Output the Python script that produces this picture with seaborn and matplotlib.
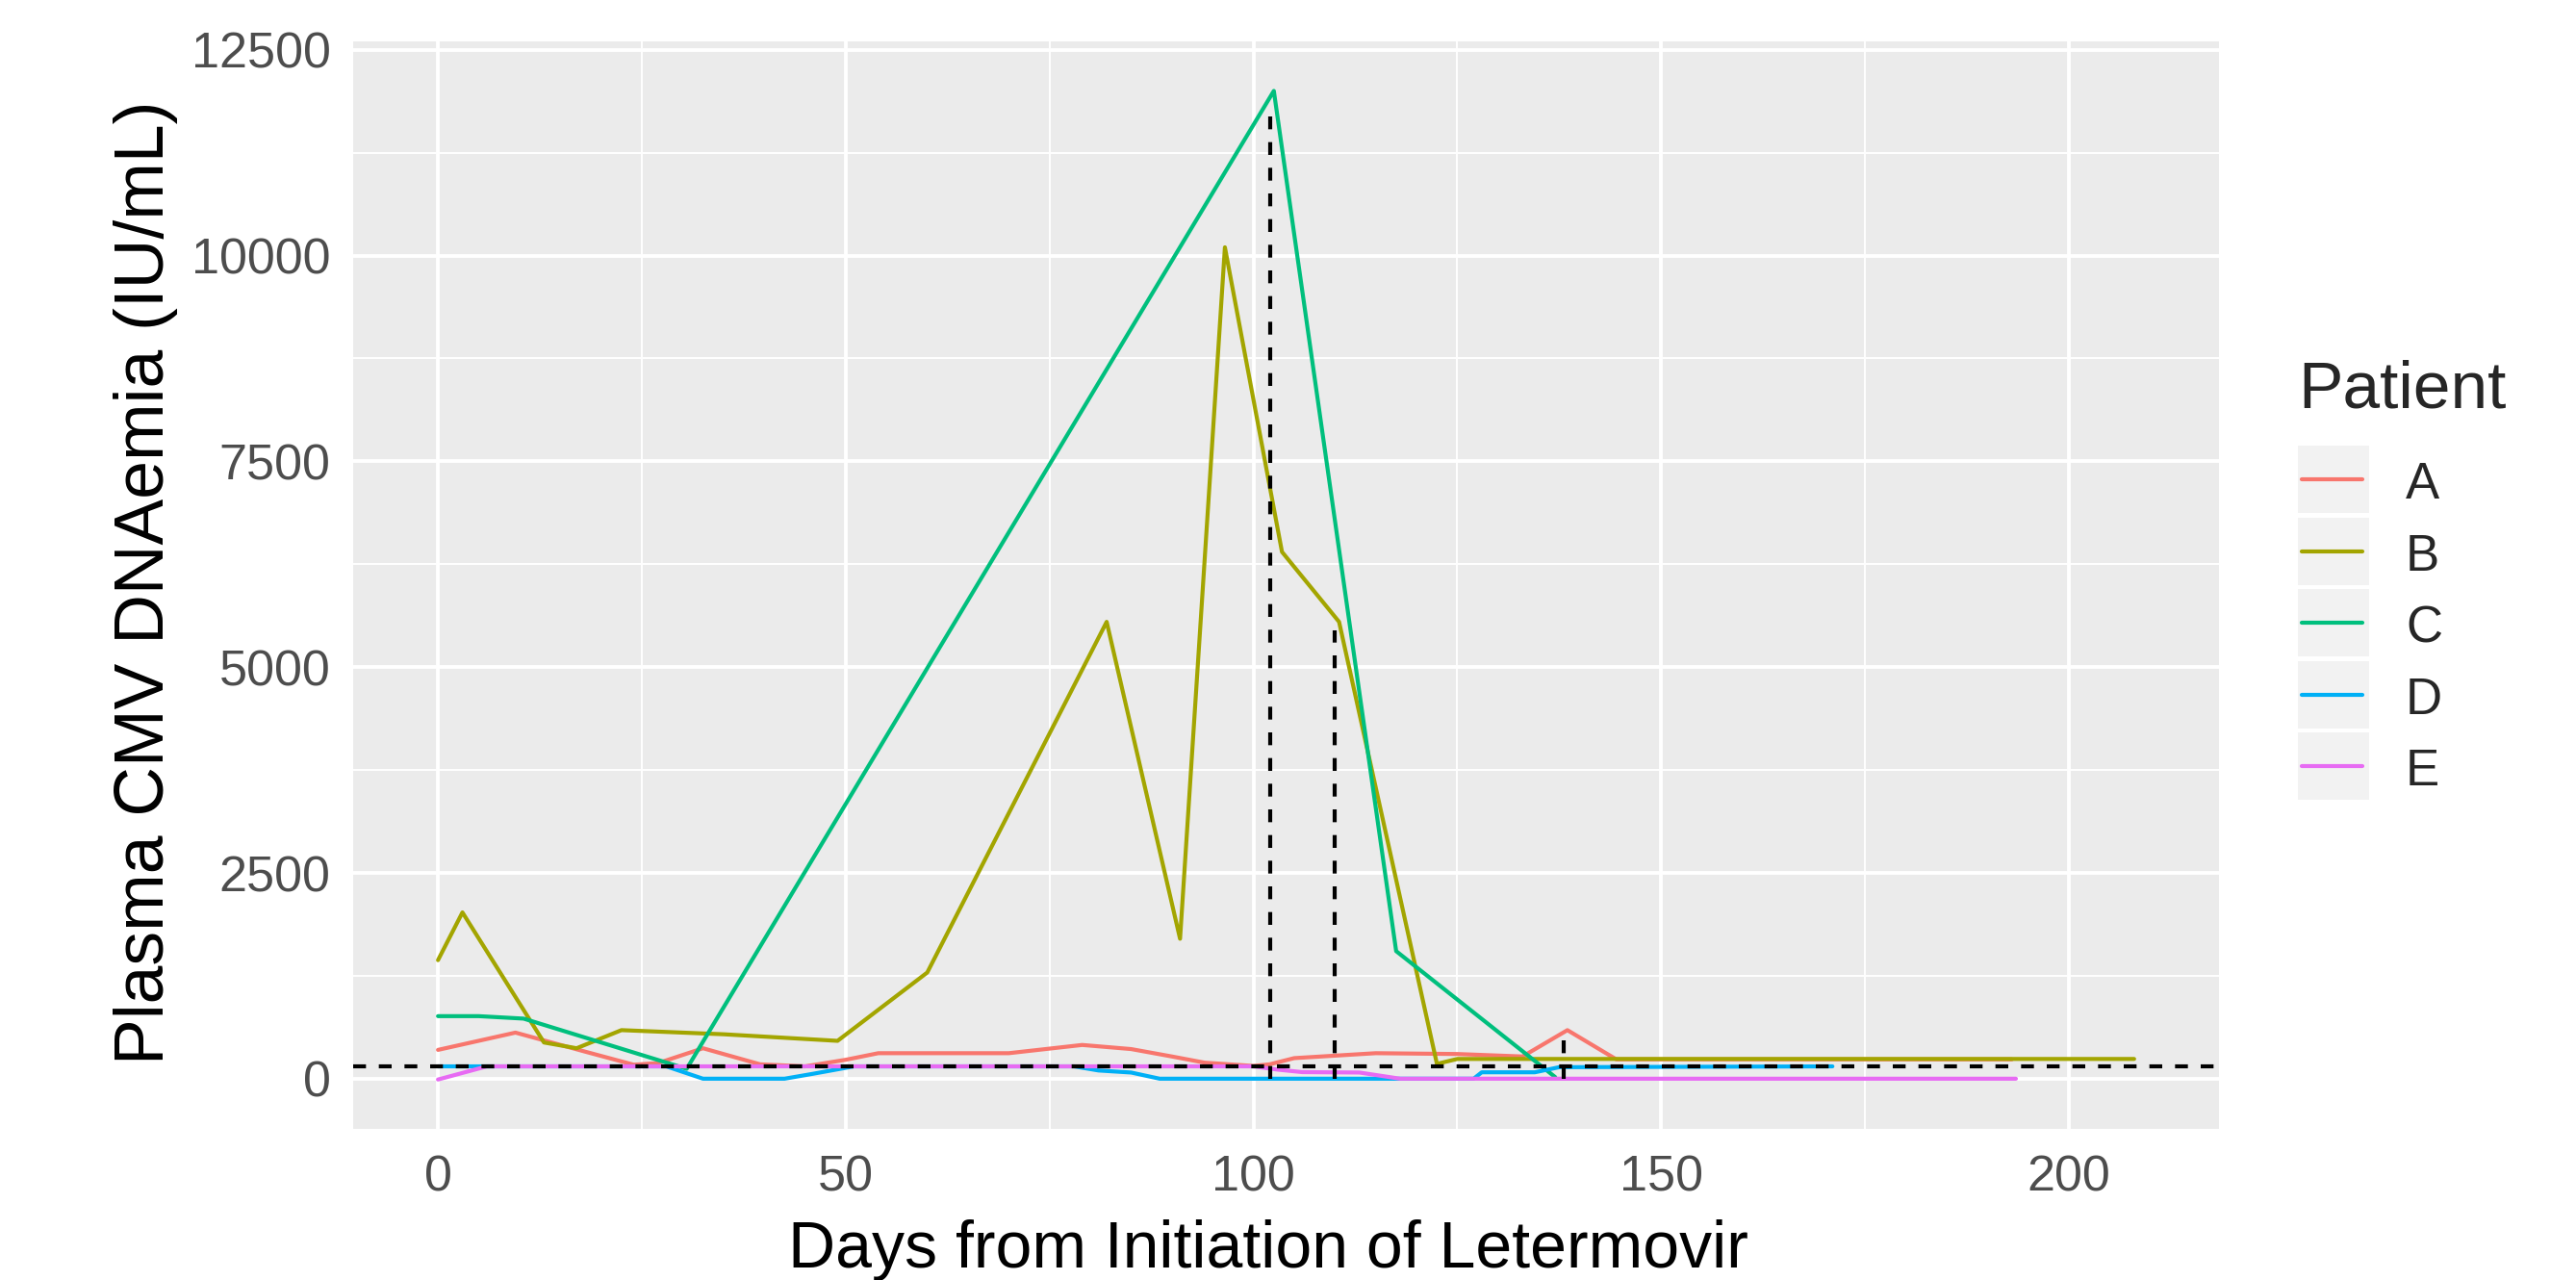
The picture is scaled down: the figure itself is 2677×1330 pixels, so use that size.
import numpy as np
import pandas as pd
import matplotlib
matplotlib.use('Agg')
import matplotlib.pyplot as plt
import seaborn as sns
from matplotlib.lines import Line2D
from matplotlib.patches import Rectangle

# patients and their ggplot-like hue colours
patients = ['A', 'B', 'C', 'D', 'E']
colors = ['#F8766D', '#A3A500', '#00BF7D', '#00B0F6', '#E76BF3']

# values (days, IU/mL)
a_days = [0, 9.5, 18, 24, 27, 32.5, 39.5, 45, 50, 54, 70, 79, 85, 90, 94, 100, 102, 105, 115, 125, 133, 138.5, 144.5, 193]
a_vals = [350, 560, 330, 170, 190, 370, 175, 150, 230, 310, 310, 410, 360, 270, 195, 155, 175, 250, 310, 300, 270, 590, 235, 235]

b_days = [0, 3, 13, 17, 22.5, 35, 49, 60, 82, 91, 96.5, 103.5, 110.5, 122.5, 125, 208]
b_vals = [1440, 2020, 440, 370, 590, 540, 460, 1290, 5550, 1700, 10100, 6400, 5550, 180, 240, 240]

c_days = [0, 5, 10.5, 30.5, 102.5, 117.5, 137]
c_vals = [760, 760, 730, 120, 12000, 1550, 20]

d_days = [0, 28, 32.5, 42.5, 46, 51, 78, 81, 85, 88.5, 127, 128, 134.5, 137.5, 171]
d_vals = [150, 150, 0, 0, 60, 150, 150, 100, 75, 0, 0, 78, 78, 140, 150]

e_days = [0, 6, 100, 103, 106, 113, 118, 193.5]
e_vals = [-10, 150, 150, 110, 80, 75, 0, 0]

# threshold line and the vertical markers
threshold = 150
marker_days = [102, 110, 138]
marker_tops = [11700, 5450, 560]

x_ticks = [0, 50, 100, 150, 200]
y_ticks = [0, 2500, 5000, 7500, 10000, 12500]

all_days = [a_days, b_days, c_days, d_days, e_days]
all_vals = [a_vals, b_vals, c_vals, d_vals, e_vals]

frames = []
for p, d, v in zip(patients, all_days, all_vals):
    frames.append(pd.DataFrame({'day': d, 'value': v, 'patient': p}))
df = pd.concat(frames, ignore_index=True)

sns.set_style('darkgrid', {'axes.facecolor': '#EBEBEB', 'grid.color': 'white'})
plt.rcParams['font.family'] = ['Liberation Sans', 'DejaVu Sans']

fig = plt.figure(figsize=(26.77, 13.30), dpi=100)
ax = fig.add_axes([0.1371, 0.1180, 0.7243, 0.8496])

sns.lineplot(data=df, x='day', y='value', hue='patient', hue_order=patients,
             palette=dict(zip(patients, colors)), estimator=None, sort=False,
             legend=False, linewidth=3, ax=ax)

# dashed reference lines
dash = (0, (3.2, 3.2))
ax.axhline(threshold, color='black', linewidth=3, linestyle=dash, zorder=5)
ax.vlines(marker_days, 0, marker_tops, colors='black', linewidth=3,
          linestyles=dash, zorder=5)

# ggplot style 5% expansion
xmin, xmax = df['day'].min(), df['day'].max()
ymin, ymax = df['value'].min(), df['value'].max()
ax.set_xlim(xmin - 0.05 * (xmax - xmin), xmax + 0.05 * (xmax - xmin))
ax.set_ylim(ymin - 0.05 * (ymax - ymin), ymax + 0.05 * (ymax - ymin))

ax.set_xticks(x_ticks)
ax.set_xticklabels([str(t) for t in x_ticks])
ax.set_yticks(y_ticks)
ax.set_yticklabels([str(t) for t in y_ticks])
ax.set_xticks([25, 75, 125, 175], minor=True)
ax.set_yticks([1250, 3750, 6250, 8750, 11250], minor=True)
ax.grid(which='major', color='white', linewidth=2.8)
ax.grid(which='minor', color='white', linewidth=1.4)
ax.set_axisbelow(True)
ax.tick_params(which='major', length=9, width=2, color='#333333',
               labelsize=37.5, labelcolor='#4D4D4D', pad=8)
ax.tick_params(which='minor', length=0)
ax.tick_params(axis='x', pad=10)
for s in ax.spines.values():
    s.set_visible(False)
ax.set_xlabel('')
ax.set_ylabel('')

fig.text(1318 / 2677, 1 - 1317 / 1330, 'Days from Initiation of Letermovir',
         fontsize=49, ha='center', va='baseline', color='black')
fig.text(152 / 2677, 1 - 605 / 1330, 'Plasma CMV DNAemia (IU/mL)',
         fontsize=51.5, ha='center', va='center', rotation=90, color='black')

# legend drawn by hand to get the grey key boxes
W, H = 2677, 1330
fig.text(2388 / W, 1 - 423 / H, 'Patient', fontsize=50, ha='left', va='baseline')
key_y = [498, 573, 647, 722, 796]
for p, c, ky in zip(patients, colors, key_y):
    fig.add_artist(Rectangle((2388 / W, 1 - (ky + 35) / H), 74 / W, 70 / H,
                             facecolor='#F2F2F2', edgecolor='none',
                             transform=fig.transFigure))
    fig.add_artist(Line2D([2392 / W, 2455 / W], [1 - ky / H, 1 - ky / H],
                          color=c, linewidth=3, transform=fig.transFigure))
    fig.text(2500 / W, 1 - (ky + 20) / H, p, fontsize=38, ha='left', va='baseline')

fig.savefig('out.png', dpi=100)
